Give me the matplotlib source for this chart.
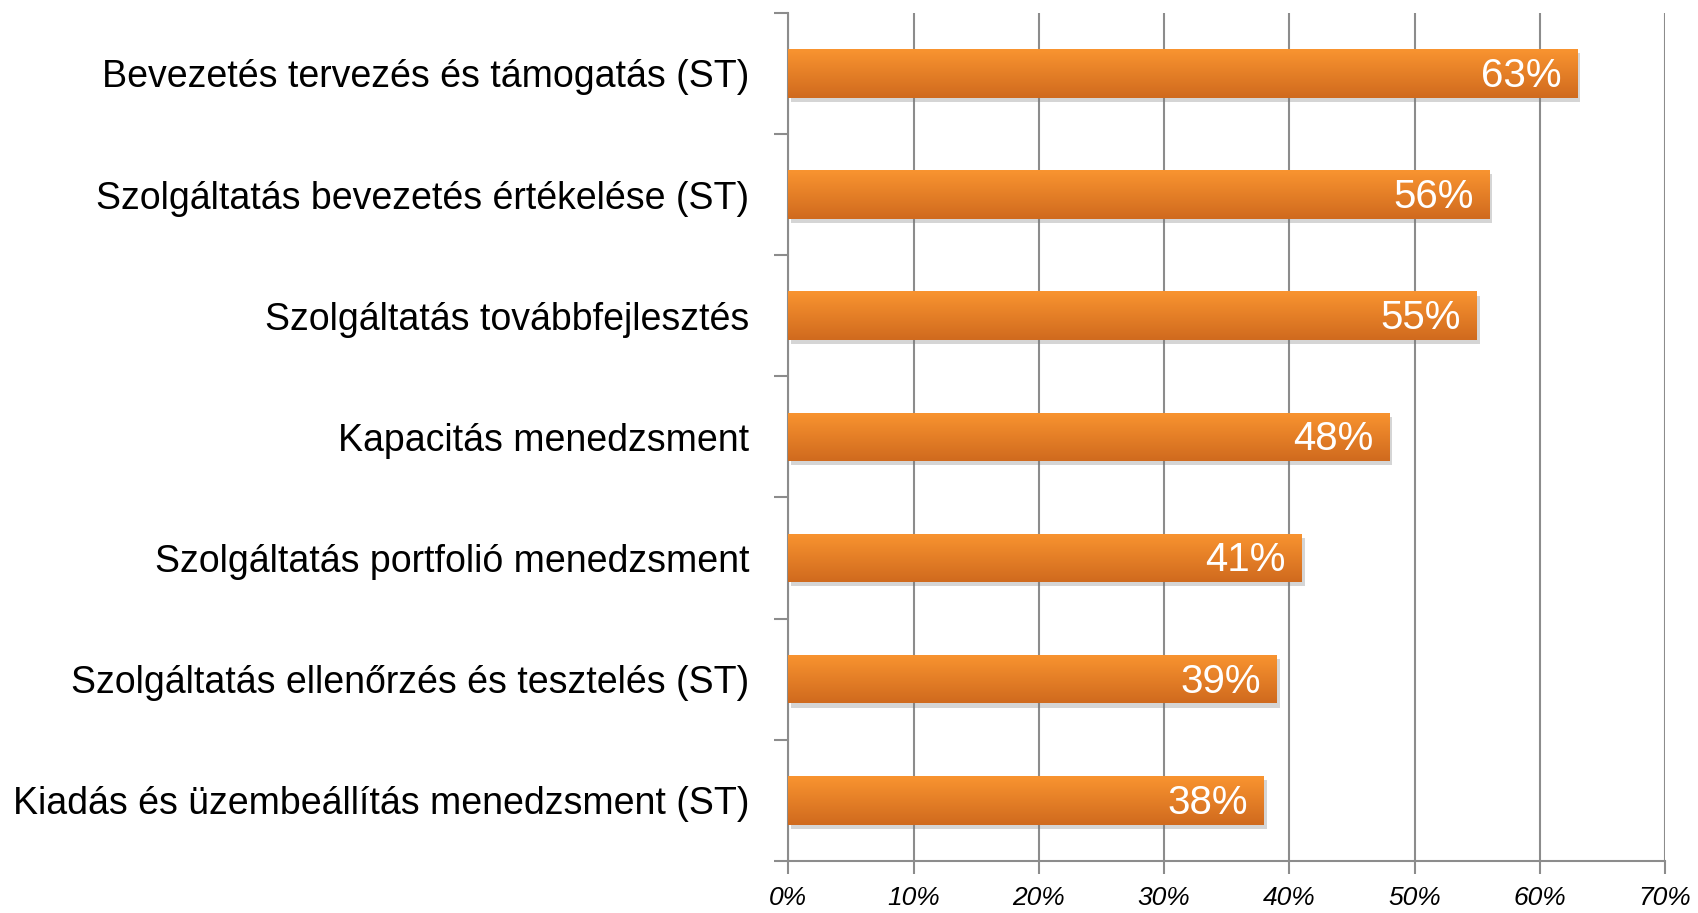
import numpy as np
import matplotlib
matplotlib.use("Agg")
import matplotlib.pyplot as plt
import matplotlib.patheffects as pe
from matplotlib.colors import LinearSegmentedColormap

# data
categories = [
    "Bevezetés tervezés és támogatás (ST)",
    "Szolgáltatás bevezetés értékelése (ST)",
    "Szolgáltatás továbbfejlesztés",
    "Kapacitás menedzsment",
    "Szolgáltatás portfolió menedzsment",
    "Szolgáltatás ellenőrzés és tesztelés (ST)",
    "Kiadás és üzembeállítás menedzsment (ST)",
]
values = [63, 56, 55, 48, 41, 39, 38]
xticks = [0, 10, 20, 30, 40, 50, 60, 70]
xtick_labels = ["0%", "10%", "20%", "30%", "40%", "50%", "60%", "70%"]

plt.rcParams['font.family'] = ['Liberation Sans', 'DejaVu Sans']
grid_col = "#8c8c8c"

fig = plt.figure(figsize=(16.99, 9.13), dpi=100)
ax = fig.add_axes([0.464, 0.057, 0.516, 0.929])

ypos = np.arange(len(categories))[::-1]
bars = ax.barh(ypos, values, height=0.4, color="#ef8228", zorder=3,
               path_effects=[pe.SimplePatchShadow(offset=(2, -3), shadow_rgbFace="#777777", alpha=0.3),
                             pe.Normal()])

# vertical gradient on each bar, light on top
grad = np.linspace(0, 1, 100).reshape(-1, 1)
cmap = LinearSegmentedColormap.from_list("org", ["#f99430", "#d06a1e"])
for b in bars:
    x0, y0 = b.get_x(), b.get_y()
    w, h = b.get_width(), b.get_height()
    im = ax.imshow(grad, cmap=cmap, aspect="auto", extent=[x0, x0 + w, y0, y0 + h],
                   zorder=4, interpolation="bicubic")
    im.set_clip_path(b)

for y, v in zip(ypos, values):
    ax.text(v - 1.3, y - 0.02, f"{v}%", ha="right", va="center", color="white",
            fontsize=29, zorder=5)

ax.set_xlim(0, 70)
ax.set_ylim(-0.5, len(categories) - 0.5)
ax.set_xticks(xticks)
ax.set_xticklabels(xtick_labels, fontsize=19, style="italic")
ax.set_yticks(ypos)
ax.set_yticklabels(categories, fontsize=27)
ax.tick_params(axis="y", length=0, pad=28)
ax.set_yticks(np.arange(-0.5, len(categories), 1), minor=True)
ax.tick_params(axis="y", which="minor", length=10, color=grid_col, width=1.5)
ax.tick_params(axis="x", length=9, color=grid_col, width=1.5, pad=9)

ax.grid(axis="x", color=grid_col, linewidth=1.5, zorder=0)
for s in ["top", "right"]:
    ax.spines[s].set_visible(False)
for s in ["left", "bottom"]:
    ax.spines[s].set_color(grid_col)
    ax.spines[s].set_linewidth(1.5)

fig.savefig("out.png", dpi=100)
